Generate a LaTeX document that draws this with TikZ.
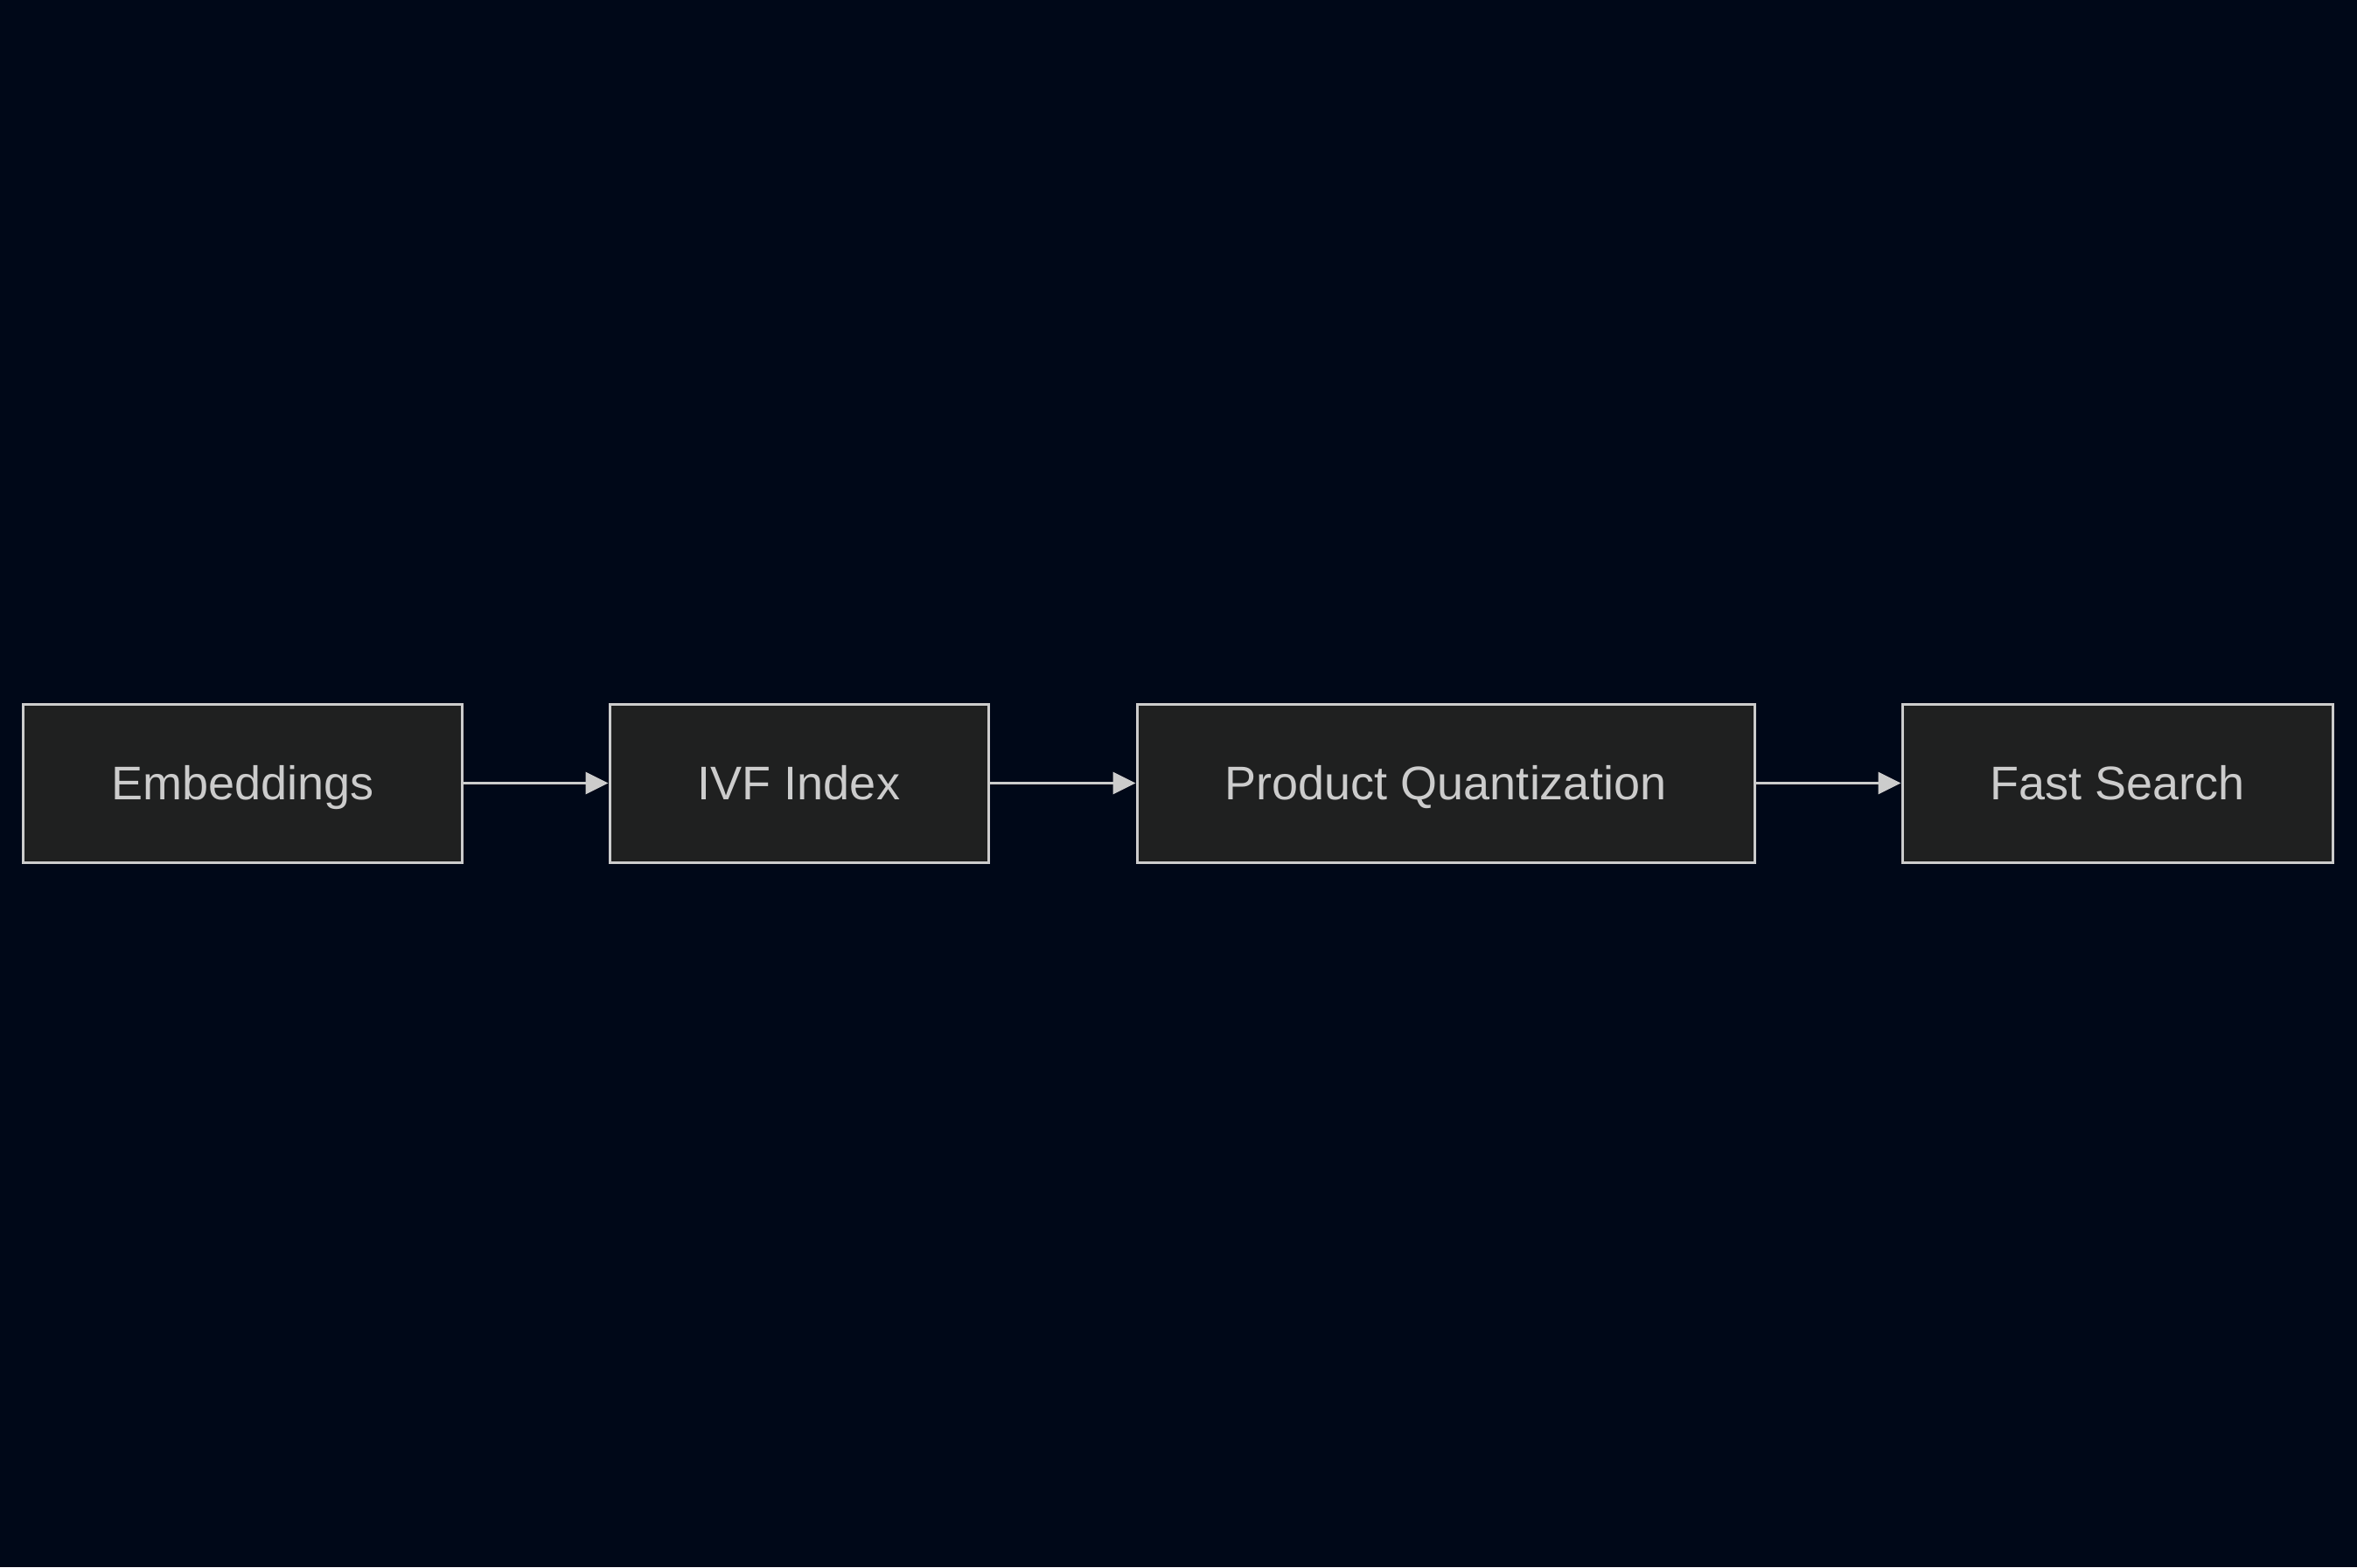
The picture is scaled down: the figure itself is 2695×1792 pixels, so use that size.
\documentclass[tikz,border=0pt]{standalone}
\usepackage{fontspec}
\setmainfont{Liberation Sans}
\usetikzlibrary{arrows.meta}
\definecolor{bgc}{HTML}{000818}
\definecolor{boxfill}{HTML}{1F2020}
\definecolor{linec}{HTML}{CCCCCC}
\begin{document}
\begin{tikzpicture}[x=1pt,y=-1pt,
  stage/.style={draw=linec, fill=boxfill, line width=3pt, rectangle, inner sep=0pt,
    minimum height=181pt, text=linec, font=\fontsize{54}{64}\selectfont,
    text height=48.6pt, text depth=9.9pt},
  flow/.style={draw=linec, line width=3.2pt, -{Triangle[length=26pt,width=25pt]}}]
\fill[bgc] (0,0) rectangle (2695,1792);
\useasboundingbox (0,0) rectangle (2695,1792);
\node[stage, minimum width=502pt] (emb) at (277.5,895.5) {Embeddings};
\node[stage, minimum width=433pt] (ivf) at (913.5,895.5) {IVF Index};
\node[stage, minimum width=706pt] (pq) at (1653,895.5) {Product Quantization};
\node[stage, minimum width=492pt] (fs) at (2421,895.5) {Fast Search};
\draw[flow] (emb) -- (ivf);
\draw[flow] (ivf) -- (pq);
\draw[flow] (pq) -- (fs);
\end{tikzpicture}
\end{document}
